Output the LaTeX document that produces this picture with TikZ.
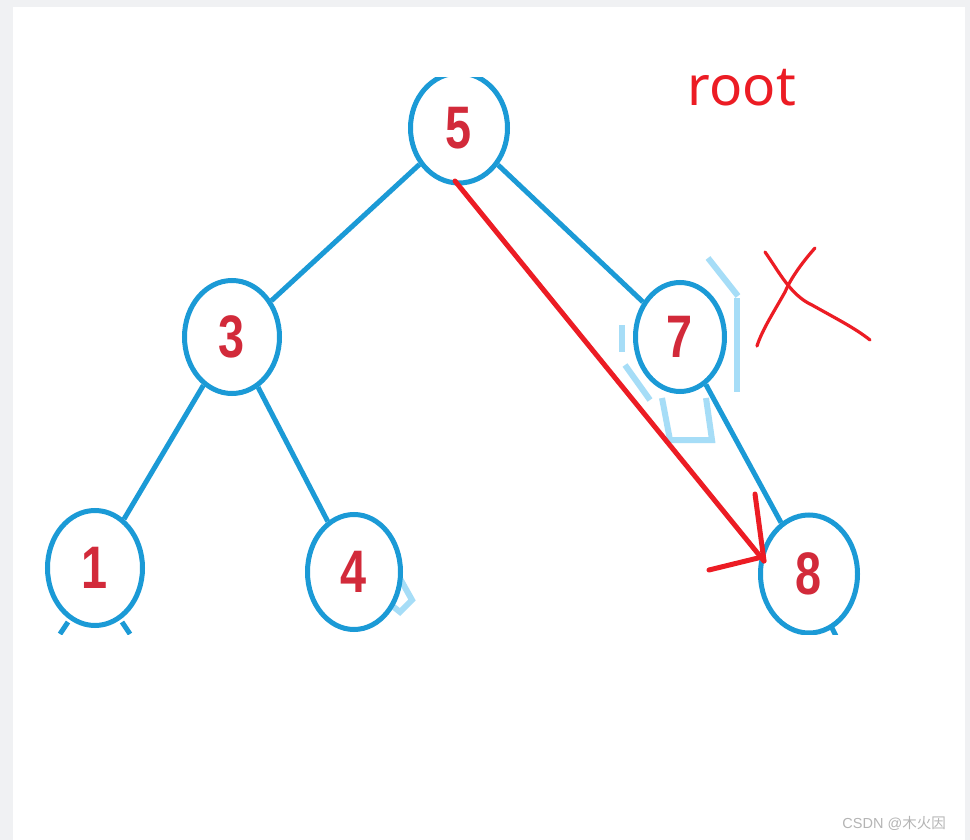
\documentclass[tikz,border=0pt]{standalone}
\usepackage{fontspec}
\setmainfont{Liberation Sans}
\newfontfamily\cjkfont{Noto Sans CJK SC}
\newfontfamily\rootfont{Noto Sans}
\usetikzlibrary{shapes.geometric}
\definecolor{bgray}{HTML}{F0F1F3}
\definecolor{tblue}{HTML}{1B9AD6}
\definecolor{lblue}{HTML}{A6DDF7}
\definecolor{numred}{HTML}{D22A3A}
\definecolor{penred}{HTML}{EC1C24}
\definecolor{wmgray}{HTML}{B4B4B4}
\tikzset{
  treenode/.style={ellipse, draw=tblue, line width=5pt, fill=white,
    inner sep=0pt,
    font=\fontsize{60}{60}\selectfont\bfseries, text=numred},
  treeedge/.style={draw=tblue, line width=5pt},
  pen/.style={draw=penred, line width=5pt, line cap=round, line join=round},
  thinpen/.style={draw=penred, line width=3.2pt, line cap=round, line join=round},
  ghost/.style={draw=lblue, line width=6pt},
}
\newcommand{\dg}[1]{\scalebox{0.78}[1]{#1}}
\begin{document}
\begin{tikzpicture}[x=1pt,y=-1pt]
\useasboundingbox (0,0) rectangle (970,840);
\fill[bgray] (0,0) rectangle (970,840);
\fill[white] (13,7) rectangle (965,840);
\begin{scope}
\clip (40,78) rectangle (870,634);
% ghost artifacts
\draw[ghost] (708,258) -- (738,296);
\draw[ghost] (737,298) -- (737,392);
\draw[ghost] (622,325) -- (622,352);
\draw[ghost] (625,365) -- (650,400);
\draw[ghost] (662,398) -- (670,440) -- (712,440) -- (706,398);
\draw[ghost] (380,556) -- (398,575) -- (412,600) -- (400,612) -- (385,600);
% nodes
\node[treenode, minimum width=97pt, minimum height=110pt] (n5) at (459,128) {\dg{5}};
\node[treenode, minimum width=95pt, minimum height=113pt] (n3) at (232,337) {\dg{3}};
\node[treenode, minimum width=89pt, minimum height=109pt] (n7) at (680,337) {\dg{7}};
\node[treenode, minimum width=95pt, minimum height=115pt] (n1) at (95,568) {\dg{1}};
\node[treenode, minimum width=93pt, minimum height=115pt] (n4) at (354,572) {\dg{4}};
\node[treenode, minimum width=97pt, minimum height=118pt] (n8) at (809,574) {\dg{8}};
% edges
\draw[treeedge] (n5) -- (n3);
\draw[treeedge] (n5) -- (n7);
\draw[treeedge] (n3) -- (n1);
\draw[treeedge] (n3) -- (n4);
\draw[treeedge] (n7) -- (n8);
% small stubs at cropped bottoms
\coordinate (s1a) at (68,622); \coordinate (s1b) at (60,634);
\coordinate (s1c) at (122,622); \coordinate (s1d) at (130,634);
\coordinate (s8a) at (832,628); \coordinate (s8b) at (836,636);
\draw[treeedge] (s1a) -- (s1b);
\draw[treeedge] (s1c) -- (s1d);
\draw[treeedge] (s8a) -- (s8b);
\end{scope}
% red arrow
\coordinate (a0) at (455,181);
\coordinate (a1) at (764,561);
\coordinate (h1) at (755,494);
\coordinate (h2) at (709,570);
\coordinate (h3) at (758,558);
\draw[pen] (a0) -- (a1);
\draw[pen] (h1) -- (a1);
\draw[pen] (h2) -- (h3);
% red X
\coordinate (x1) at (765,252);
\coordinate (x2) at (870,340);
\coordinate (x3) at (815,248);
\coordinate (x4) at (757,346);
\draw[thinpen] (x1) .. controls (778,270) and (790,295) .. (812,305) .. controls (835,318) and (855,328) .. (x2);
\draw[thinpen] (x3) .. controls (800,265) and (790,280) .. (785,292) .. controls (775,310) and (762,330) .. (x4);
% labels
\node[font=\rootfont\fontsize{55}{55}\selectfont, text=penred, inner sep=0pt, anchor=base] (root) at (742,106) {root};
\node[font=\fontsize{14.5}{14.5}\selectfont, text=wmgray, inner sep=0pt, anchor=base east] (wm) at (946,828) {CSDN @{\cjkfont 木火因}};
\end{tikzpicture}
\end{document}
